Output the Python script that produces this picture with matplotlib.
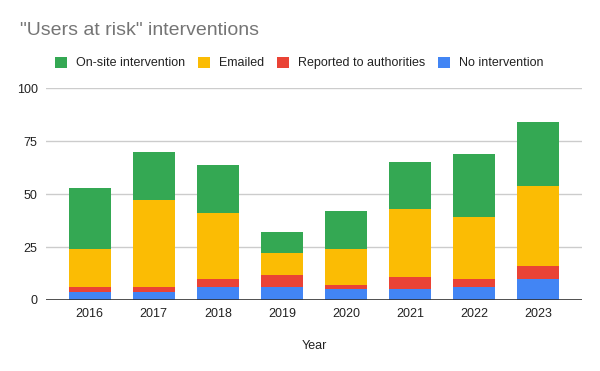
import matplotlib.pyplot as plt
import numpy as np
from matplotlib.patches import Patch

years = ["2016", "2017", "2018", "2019", "2020", "2021", "2022", "2023"]
no_intervention = [4, 4, 6, 6, 5, 5, 6, 10]
reported = [2, 2, 4, 6, 2, 6, 4, 6]
emailed = [18, 41, 31, 10, 17, 32, 29, 38]
on_site = [29, 23, 23, 10, 18, 22, 30, 30]

series_names = ["No intervention", "Reported to authorities", "Emailed", "On-site intervention"]
series_colors = ["#4285F4", "#EA4335", "#FBBC04", "#34A853"]

plt.rcParams['font.family'] = ['Liberation Sans', 'DejaVu Sans']

fig = plt.figure(figsize=(6, 3.71), dpi=100)
ax = fig.add_axes([0.0767, 0.1914, 0.8933, 0.5706])

x = np.arange(len(years))
bottom = np.zeros(len(years))
for vals, color in zip([no_intervention, reported, emailed, on_site], series_colors):
    ax.bar(x, vals, width=0.655, bottom=bottom, color=color, zorder=3)
    bottom += np.array(vals)

ax.set_xlim(-0.68, len(years) - 1 + 0.68)
ax.set_ylim(0, 100)
ax.set_yticks([0, 25, 50, 75, 100])
ax.set_xticks(x)
ax.set_xticklabels(years)
ax.grid(axis='y', color='#cccccc', linewidth=1, zorder=0)
ax.axhline(0, color='#333333', linewidth=1.2, zorder=4)
for s in ax.spines.values():
    s.set_visible(False)
ax.tick_params(axis='both', length=0, labelsize=9, colors='#222222')
ax.tick_params(axis='y', pad=6)
ax.tick_params(axis='x', pad=6)
ax.set_xlabel("Year", fontsize=9, color='#222222', labelpad=14)

fig.text(0.034, 0.905, '"Users at risk" interventions', fontsize=14, color='#757575')

handles = [Patch(facecolor=c, edgecolor='none') for c in series_colors[::-1]]
fig.legend(handles, series_names[::-1], loc='center left', bbox_to_anchor=(0.092, 0.83),
           ncol=4, frameon=False, fontsize=9, handlelength=0.95, handleheight=0.95,
           handletextpad=0.7, columnspacing=1.05, borderaxespad=0, borderpad=0,
           labelcolor='#222222')

fig.savefig('out.png', dpi=100)
